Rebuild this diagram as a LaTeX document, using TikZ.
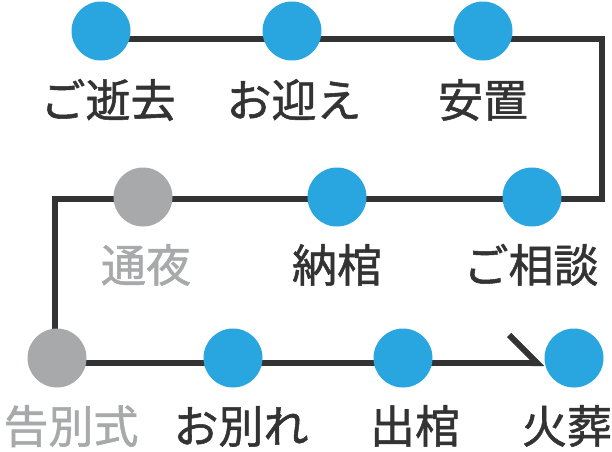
\documentclass[tikz,border=0pt]{standalone}
\usepackage{fontspec}
\newfontfamily\jpfont[FakeBold=1.2]{Noto Sans CJK JP}
\usetikzlibrary{arrows.meta, backgrounds}
\definecolor{stepblue}{HTML}{29A6E0}
\definecolor{stepgray}{HTML}{A8A9AA}
\definecolor{dkline}{HTML}{333333}

\begin{document}
\begin{tikzpicture}[
  x=1pt, y=-1pt,
  dot/.style={circle, fill=#1, minimum size=59pt, inner sep=0pt},
  lbl/.style={font=\jpfont\fontsize{45pt}{45pt}\selectfont, text=#1, anchor=base, inner sep=0pt},
  route/.style={line width=6pt, dkline, line join=miter,
    -{Straight Barb[left, length=28pt, width=56pt, line cap=butt]}},
]

% Canvas (612 x 451)
\useasboundingbox (0,0) rectangle (612,451);

% === Row 1 ===
\node[dot=stepblue] (seikyo) at (101,31) {};
\node[dot=stepblue] (mukae) at (292,31) {};
\node[dot=stepblue] (anchi) at (483,31) {};
\node[lbl=dkline] (seikyo-t) at (108,117) {ご逝去};
\node[lbl=dkline] (mukae-t) at (294,117) {お迎え};
\node[lbl=dkline] (anchi-t) at (483,117) {安置};

% === Row 2 ===
\node[dot=stepgray] (tsuya) at (143,197) {};
\node[dot=stepblue] (noukan) at (337,197) {};
\node[dot=stepblue] (soudan) at (532,197) {};
\node[lbl=stepgray] (tsuya-t) at (146,282) {通夜};
\node[lbl=dkline] (noukan-t) at (337,282) {納棺};
\node[lbl=dkline] (soudan-t) at (531,282) {ご相談};

% === Row 3 ===
\node[dot=stepgray] (kokubetsu) at (57,358) {};
\node[dot=stepblue] (owakare) at (233,358) {};
\node[dot=stepblue] (shukkan) at (403,358) {};
\node[dot=stepblue] (kasou) at (574,358) {};
\node[lbl=stepgray] (kokubetsu-t) at (71,443) {告別式};
\node[lbl=dkline] (owakare-t) at (241,443) {お別れ};
\node[lbl=dkline] (shukkan-t) at (415,443) {出棺};
\node[lbl=dkline] (kasou-t) at (567,443) {火葬};

% === Route behind the dots ===
\coordinate (turn1) at (602,39);
\coordinate (turn2) at (602,199);
\coordinate (turn3) at (55,199);
\coordinate (turn4) at (55,363);
\begin{scope}[on background layer]
  \draw[route] (seikyo.center |- turn1) -- (turn1) -- (turn2)
    -- (turn3) -- (turn4) -- (kasou.west |- turn4);
\end{scope}

\end{tikzpicture}
\end{document}
